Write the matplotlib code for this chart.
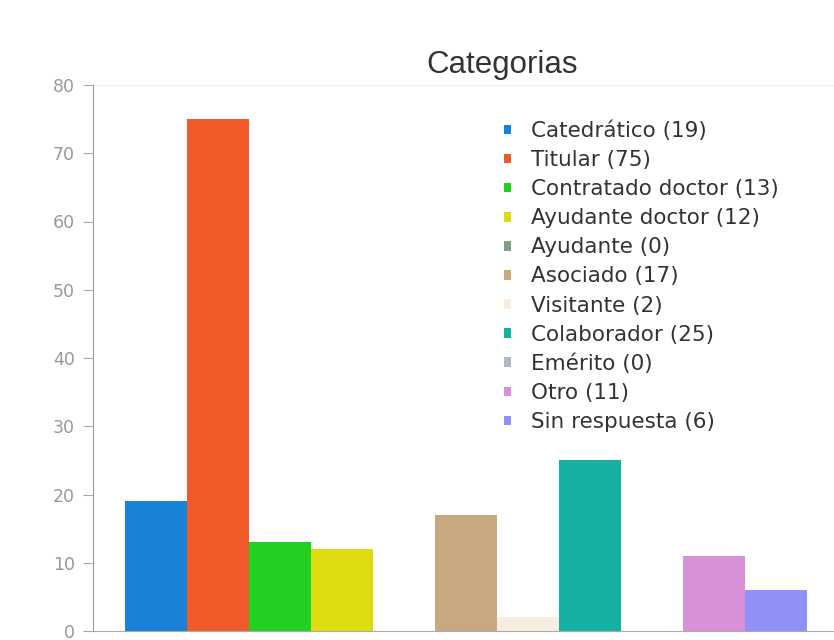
import matplotlib.pyplot as plt
import numpy as np

# Data
categorias = ["Catedrático", "Titular", "Contratado doctor", "Ayudante doctor",
              "Ayudante", "Asociado", "Visitante", "Colaborador", "Emérito",
              "Otro", "Sin respuesta"]
valores = [19, 75, 13, 12, 0, 17, 2, 25, 0, 11, 6]
colores = ["#1a82d6", "#f05a28", "#22d022", "#dcdc10", "#7fa07f", "#c8a880",
           "#f8ece0", "#14b0a2", "#b0b8c8", "#d890d8", "#9090f8"]
yticks = [0, 10, 20, 30, 40, 50, 60, 70, 80]

fig = plt.figure(figsize=(8.34, 6.4), dpi=100)
ax = fig.add_axes([93 / 834, 9 / 640, 741 / 834, 546 / 640])

x = np.arange(len(valores))
for i, (cat, val, clr) in enumerate(zip(categorias, valores, colores)):
    ax.bar(x[i], val, width=1.0, color=clr, label=f"{cat} ({val})")

ax.set_xlim(-1.016, 10.935)
ax.set_ylim(0, 80)
ax.set_yticks(yticks)
ax.set_xticks([])

for s in ["top", "right"]:
    ax.spines[s].set_visible(False)
ax.spines["left"].set_color("#999999")
ax.spines["bottom"].set_color("#aaaaaa")
ax.tick_params(axis="y", colors="#aaaaaa", labelsize=12.5, length=7, pad=6)
for lbl in ax.get_yticklabels():
    lbl.set_color("#999999")

# faint top line
ax.axhline(80, color="#f0f0f0", lw=1)

fig.text(502 / 834, 1 - 65 / 640, "Categorias", ha="center", va="center",
         fontsize=22.5, family="Liberation Sans", color="#333333")

leg = ax.legend(loc="upper left", bbox_to_anchor=(493 / 834, 1 - 110 / 640),
                bbox_transform=fig.transFigure, frameon=False, fontsize=15.5,
                handlelength=0.32, handleheight=0.32, handletextpad=0.95,
                labelspacing=0.42, borderpad=0)
for t in leg.get_texts():
    t.set_color("#333333")

fig.savefig("out.png", dpi=100)
